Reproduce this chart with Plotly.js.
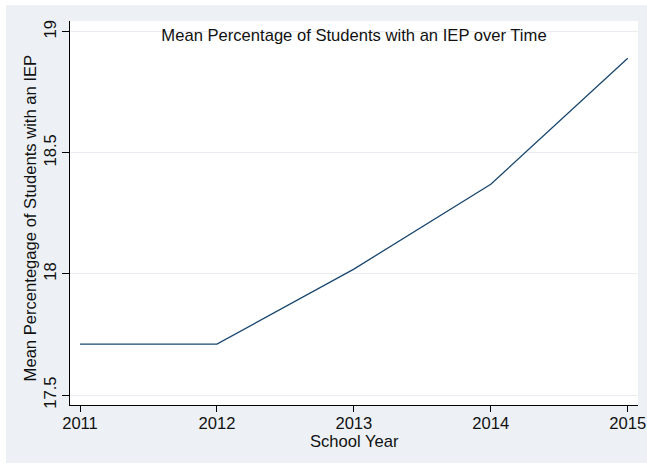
<!DOCTYPE html>
<html>
<head>
<meta charset="utf-8">
<script src="https://cdn.plot.ly/plotly-3.0.1.min.js"></script>
<style>
  html, body { margin: 0; padding: 0; background: #ffffff; width: 647px; height: 466px; overflow: hidden; }
  #chart { position: absolute; left: 6px; top: 5px; width: 641px; height: 458px; }
</style>
</head>
<body>
<div id="chart"></div>
<script>
// School years and the mean share of students with an IEP
const schoolYears = [2011, 2012, 2013, 2014, 2015];
const meanIepPct = [17.71, 17.71, 18.02, 18.37, 18.89];
const yTickValues = [17.5, 18, 18.5, 19];
const yTickLabels = ['17.5', '18', '18.5', '19'];

const FONT = '"Liberation Sans", Arial, sans-serif';
const TEXT = { family: FONT, size: 16.6, color: '#111111' };

const trace = {
  x: schoolYears,
  y: meanIepPct,
  type: 'scatter',
  mode: 'lines',
  line: { color: '#1a476f', width: 1.3 },
  hoverinfo: 'x+y'
};

const layout = {
  width: 641,
  height: 458,
  margin: { l: 64, r: 9, t: 16, b: 58, pad: 0 },
  paper_bgcolor: '#edf1f6',
  plot_bgcolor: '#ffffff',
  showlegend: false,
  font: TEXT,
  title: {
    text: 'Mean Percentage of Students with an IEP over Time',
    font: TEXT,
    x: 0.5, xref: 'paper', xanchor: 'center',
    y: 0.935, yref: 'container', yanchor: 'middle'
  },
  xaxis: {
    range: [2010.927, 2015.075],
    tickvals: schoolYears,
    ticktext: schoolYears.map(String),
    ticks: 'outside', ticklen: 6, tickwidth: 1, tickcolor: '#000000',
    ticklabelstandoff: -3,
    showline: true, linecolor: '#000000', linewidth: 1,
    showgrid: false, zeroline: false,
    tickfont: TEXT
  },
  yaxis: {
    range: [17.459, 19.044],
    tickvals: yTickValues,
    ticktext: yTickLabels,
    tickangle: -90,
    ticks: 'outside', ticklen: 7, tickwidth: 1, tickcolor: '#000000',
    ticklabelstandoff: -1,
    showline: true, linecolor: '#000000', linewidth: 1,
    showgrid: true, gridcolor: '#eaeef3', gridwidth: 1,
    zeroline: false,
    tickfont: TEXT
  },
  // Axis titles placed as annotations relative to the plot area
  annotations: [
    {
      text: 'School Year', font: TEXT, showarrow: false,
      xref: 'paper', yref: 'paper', x: 0.5, y: -0.094,
      xanchor: 'center', yanchor: 'middle'
    },
    {
      text: 'Mean Percentegage of Students with an IEP', font: TEXT, showarrow: false,
      textangle: -90,
      xref: 'paper', yref: 'paper', x: -0.069, y: 0.488,
      xanchor: 'center', yanchor: 'middle'
    }
  ]
};

Plotly.newPlot('chart', [trace], layout, { staticPlot: true, displayModeBar: false });
</script>
</body>
</html>
